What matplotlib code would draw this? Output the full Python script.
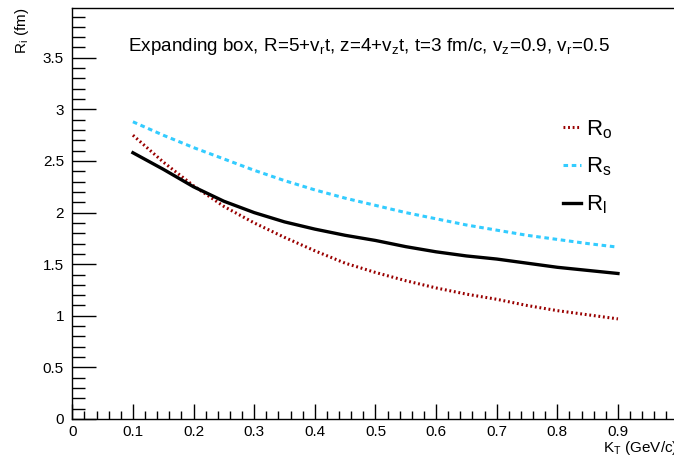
import numpy as np
import matplotlib.pyplot as plt
from matplotlib.ticker import MultipleLocator, FixedLocator, FuncFormatter

plt.rcParams['font.family'] = ['Liberation Sans', 'DejaVu Sans']
plt.rcParams['mathtext.fontset'] = 'custom'
plt.rcParams['mathtext.rm'] = 'Liberation Sans'
plt.rcParams['mathtext.it'] = 'Liberation Sans'

# HBT radii vs pair transverse momentum
kt = [0.10, 0.15, 0.20, 0.25, 0.30, 0.35, 0.40, 0.45, 0.50,
      0.55, 0.60, 0.65, 0.70, 0.75, 0.80, 0.85, 0.90]
r_out = [2.75, 2.49, 2.26, 2.06, 1.90, 1.76, 1.63, 1.51, 1.42,
         1.34, 1.27, 1.21, 1.16, 1.10, 1.05, 1.01, 0.97]
r_side = [2.88, 2.75, 2.63, 2.52, 2.41, 2.31, 2.22, 2.14, 2.07,
          2.00, 1.94, 1.88, 1.83, 1.78, 1.74, 1.70, 1.665]
r_long = [2.58, 2.42, 2.25, 2.11, 2.00, 1.91, 1.84, 1.78, 1.73,
          1.67, 1.62, 1.58, 1.55, 1.51, 1.47, 1.44, 1.41]
x_major = [0, 0.1, 0.2, 0.3, 0.4, 0.5, 0.6, 0.7, 0.8, 0.9]

W, H = 674, 458
fig = plt.figure(figsize=(W / 100, H / 100), dpi=100)
x0, x1 = 72.3, 678.6
y0, y1 = 419.0, 8.0
ax = fig.add_axes([x0 / W, 1 - y0 / H, (x1 - x0) / W, (y0 - y1) / H])

ax.plot(kt, r_out, color='#990000', lw=2.2, ls=(0, (0.6, 0.9)), label=r'R$_{\mathregular{o}}$')
ax.plot(kt, r_side, color='#33ccff', lw=2.2, ls=(0, (1.5, 1.2)), label=r'R$_{\mathregular{s}}$')
ax.plot(kt, r_long, color='black', lw=2.4, label=r'R$_{\mathregular{l}}$')

ax.set_xlim(0, 1.0)
ax.set_ylim(0, (y0 - y1) / 103.2)
ax.xaxis.set_major_locator(FixedLocator(x_major))
ax.xaxis.set_minor_locator(MultipleLocator(0.02))
ax.yaxis.set_major_locator(MultipleLocator(0.5))
ax.yaxis.set_minor_locator(MultipleLocator(0.1))
fmt = FuncFormatter(lambda v, pos: '%g' % round(v, 2))
ax.xaxis.set_major_formatter(fmt)
ax.yaxis.set_major_formatter(fmt)
ax.tick_params(which='both', direction='in', top=False, right=False, labelsize=11, width=1)
ax.tick_params(axis='x', which='major', length=11, pad=4)
ax.tick_params(axis='x', which='minor', length=6)
ax.tick_params(axis='y', which='major', length=17, pad=6)
ax.tick_params(axis='y', which='minor', length=9)
for s in ax.spines.values():
    s.set_linewidth(1)

ax.text(128 / W, 1 - 51 / H, r'Expanding box, R=5+v$_{\mathregular{r}}$t, z=4+v$_{\mathregular{z}}$t, t=3 fm/c, '
        r'v$_{\mathregular{z}}$=0.9, v$_{\mathregular{r}}$=0.5',
        transform=fig.transFigure, fontsize=13.6, ha='left', va='baseline')

fig.text(22 / W, 1 - 8 / H, r'R$_{\mathregular{i}}$ (fm)', rotation=90, fontsize=11,
         ha='center', va='top')
fig.text(603 / W, 1 - 452 / H, r'K$_{\mathregular{T}}$ (GeV/c)', fontsize=11,
         ha='left', va='baseline')

ax.legend(loc='upper left', bbox_to_anchor=(563 / W, 1 - 118 / H), bbox_transform=fig.transFigure,
          frameon=False, fontsize=16, handlelength=0.8, handletextpad=0.25, labelspacing=0.68,
          borderpad=0, borderaxespad=0)

fig.savefig('out.png', dpi=100)
